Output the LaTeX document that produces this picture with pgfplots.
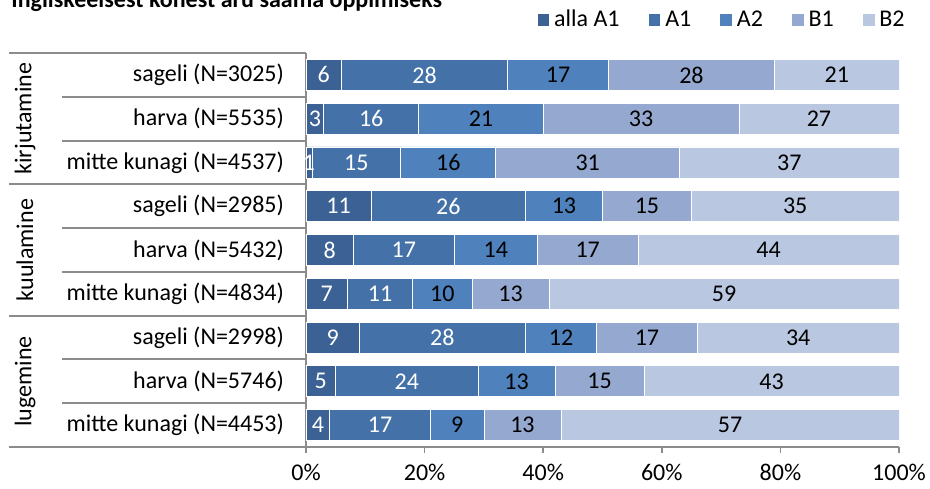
\documentclass[border=0pt]{standalone}
\usepackage{pgfplots}
\pgfplotsset{compat=1.18}
\usepackage{pgfplotstable}
\usepackage{fontspec}
\setmainfont{Carlito}

\definecolor{cAA}{HTML}{3C6195}
\definecolor{cA1}{HTML}{4472A8}
\definecolor{cA2}{HTML}{4F81BD}
\definecolor{cB1}{HTML}{95A9D0}
\definecolor{cB2}{HTML}{B9C7E1}
\definecolor{joon}{HTML}{8C8C8C}
\newcommand\fsz{\fontsize{12}{14}\selectfont}

% osakaalud (%) ridade kaupa, ylevalt alla
\pgfplotstableread{
r aA1 A1 A2 B1 B2
0 6 28 17 28 21
1 3 16 21 33 27
2 1 15 16 31 37
3 11 26 13 15 35
4 8 17 14 17 44
5 7 11 10 13 59
6 9 28 12 17 34
7 5 24 13 15 43
8 4 17 9 13 57
}\tasemed

\pgfplotsset{
  kast/.style={at={(153pt,-26.5pt)}, anchor=north west,
    scale only axis, width=296.5pt, height=197pt,
    xmin=0, xmax=100, ymin=-0.5, ymax=8.5, y dir=reverse,
    /pgf/number format/assume math mode=true},
}

\begin{document}
\begin{tikzpicture}[font=\fsz]
\begin{axis}[
    kast,
    xbar stacked, bar width=15.5pt,
    axis lines*=left,
    axis line style={joon, line width=0.8pt},
    xtick={0,20,...,100},
    xticklabels={0\%,20\%,40\%,60\%,80\%,100\%},
    tick align=outside, major tick length=3pt,
    xtick style={joon, line width=0.8pt},
    xticklabel style={yshift=-4.5pt, inner sep=1pt},
    ytick={0,...,8},
    yticklabels={sageli (N=3025),harva (N=5535),mitte kunagi (N=4537),
                 sageli (N=2985),harva (N=5432),mitte kunagi (N=4834),
                 sageli (N=2998),harva (N=5746),mitte kunagi (N=4453)},
    ytick style={draw=none},
    yticklabel style={xshift=-4.5pt},
    tick label style={font=\fsz},
    seg/.style={fill=#1, draw=white, line width=0.4pt,
        legend image code/.code={\fill[fill=#1] (0pt,-3.2pt) rectangle (6.4pt,3.2pt);}},
    legend columns=5,
    legend style={at={(1,1)}, anchor=east, xshift=8pt, yshift=16.5pt,
        draw=none, fill=none, font=\fsz,
        /tikz/every even column/.append style={column sep=12pt}},
]
\addplot[seg=cAA] table[x=aA1, y=r] {\tasemed};
\addplot[seg=cA1] table[x=A1, y=r] {\tasemed};
\addplot[seg=cA2] table[x=A2, y=r] {\tasemed};
\addplot[seg=cB1] table[x=B1, y=r] {\tasemed};
\addplot[seg=cB2] table[x=B2, y=r] {\tasemed};
\legend{alla A1, A1, A2, B1, B2}
\end{axis}

% arvud loikude keskele
\begin{axis}[
    kast, hide axis,
    point meta=explicit,
    nodes near coords={\pgfmathprintnumber{\pgfplotspointmeta}},
    every node near coord/.append style={anchor=center, font=\fsz},
    silt/.style={draw=none, mark=none, nodes near coords, text=#1},
]
\addplot[silt=white] table[x expr=\thisrow{aA1}/2, y=r, meta=aA1] {\tasemed};
\addplot[silt=white] table[x expr=\thisrow{aA1}+\thisrow{A1}/2, y=r, meta=A1] {\tasemed};
\addplot[silt=black] table[x expr=\thisrow{aA1}+\thisrow{A1}+\thisrow{A2}/2, y=r, meta=A2] {\tasemed};
\addplot[silt=black] table[x expr=\thisrow{aA1}+\thisrow{A1}+\thisrow{A2}+\thisrow{B1}/2, y=r, meta=B1] {\tasemed};
\addplot[silt=black] table[x expr=\thisrow{aA1}+\thisrow{A1}+\thisrow{A2}+\thisrow{B1}+\thisrow{B2}/2, y=r, meta=B2] {\tasemed};
\end{axis}

% tabeli jooned vasakul
\foreach \k in {1,2,4,5,7,8}
  \draw[joon, line width=1pt] (31pt,{-26.5pt-21.8889pt*\k}) -- (153pt,{-26.5pt-21.8889pt*\k});
\foreach \k in {0,3,6,9}
  \draw[joon, line width=1pt] (4.5pt,{-26.5pt-21.8889pt*\k}) -- (153pt,{-26.5pt-21.8889pt*\k});

\node[rotate=90] at (12.5pt,{-26.5pt-21.8889pt*1.5}) {kirjutamine};
\node[rotate=90] at (12.5pt,{-26.5pt-21.8889pt*4.5}) {kuulamine};
\node[rotate=90] at (12.5pt,{-26.5pt-21.8889pt*7.5}) {lugemine};

\node[anchor=base west, inner sep=0pt, font=\fsz\bfseries] at (5.5pt,-3.5pt)
  {Ingliskeelsest kõnest aru saama õppimiseks};

\pgfresetboundingbox
\useasboundingbox (0,0) rectangle (465pt,-244pt);
\end{tikzpicture}
\end{document}
